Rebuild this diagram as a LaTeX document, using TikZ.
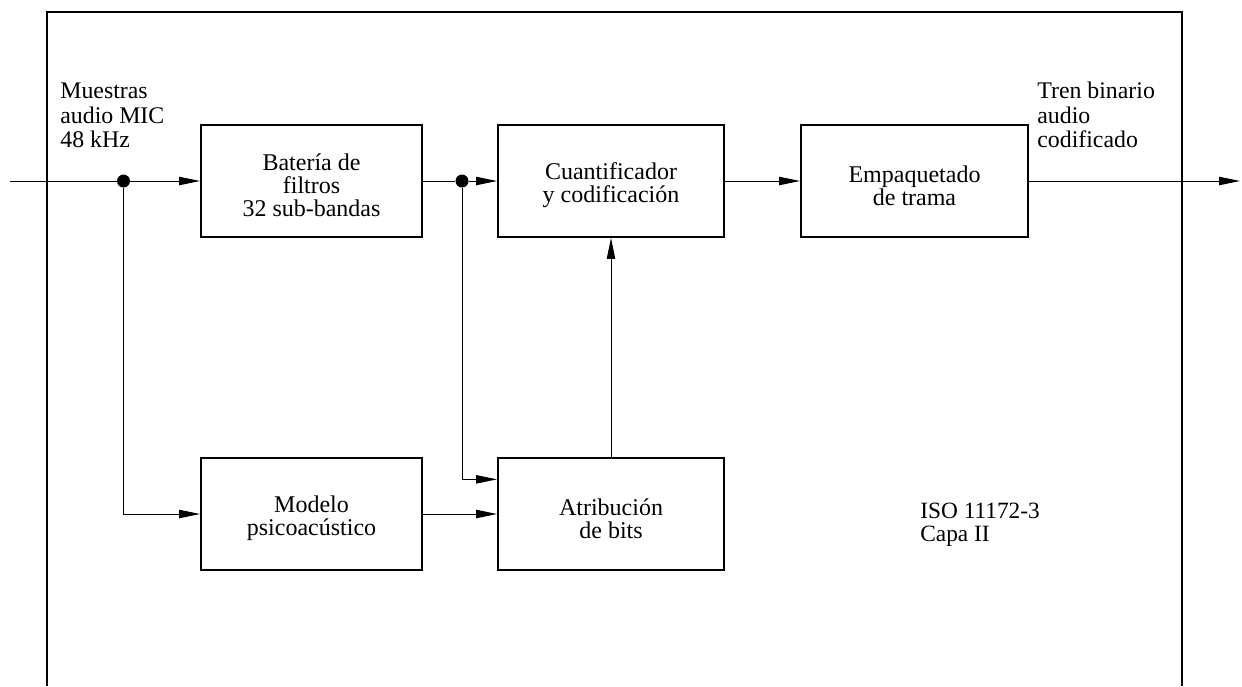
\documentclass[tikz,border=0pt]{standalone}
\usepackage{fontspec}
\setmainfont{Liberation Serif}
\usetikzlibrary{arrows.meta,calc}
\begin{document}
\begin{tikzpicture}[x=0.6pt,y=-0.6pt,
  blk/.style={draw,line width=1.2pt,minimum height=67.2pt,inner sep=0pt},
  boxtxt/.style={align=center,inner sep=0pt,yshift=-2.6pt,
    font=\fontsize{14.4pt}{13.8pt}\selectfont},
  lbl/.style={align=left,inner sep=0pt,anchor=north west,
    font=\fontsize{14.3pt}{14.7pt}\selectfont},
  conn/.style={line width=0.6pt},
  arr/.style={conn,-{Triangle[length=12.5pt,width=5pt]}},
  dot/.style={circle,fill,inner sep=0pt,minimum size=7.8pt}
]
\useasboundingbox (0,0) rectangle (1242,686);
% frame (open at bottom)
\draw[line width=1.2pt] (47,686) -- (47,12) -- (1182,12) -- (1182,686);
% blocks
\node[blk,minimum width=132.6pt,label={[boxtxt]center:Batería de\\filtros\\32 sub-bandas}] (bat) at (311.5,181) {};
\node[blk,minimum width=135.6pt,label={[boxtxt]center:Cuantificador\\y codificación}] (cuan) at (611,181) {};
\node[blk,minimum width=136.2pt,label={[boxtxt]center:Empaquetado\\de trama}] (emp) at (914.5,181) {};
\node[blk,minimum width=132.6pt,label={[boxtxt]center:Modelo\\psicoacústico}] (mod) at (311.5,514) {};
\node[blk,minimum width=135.6pt,label={[boxtxt]center:Atribución\\de bits}] (atr) at (611,514) {};
% labels
\node[lbl] (lin) at (60,83) {Muestras\\audio MIC\\48 kHz};
\node[lbl] (lout) at (1037,82) {Tren binario\\audio\\codificado};
\node[lbl,font=\fontsize{14pt}{13.5pt}\selectfont] (iso) at (920,503) {ISO 11172-3\\Capa II};
% junctions
\node[dot] (d1) at (123.5,181) {};
\node[dot] (d2) at (462,181) {};
\coordinate (in) at (10,181);
\coordinate (out) at (1240,181);
\coordinate (a1) at ($(atr.north west)!0.196!(atr.south west)$);
% connectors
\draw[conn] (in) -- (d1);
\draw[arr] (d1) -- (bat.west);
\draw[arr] (d1) |- (mod.west);
\draw[conn] (bat.east) -- (d2);
\draw[arr] (d2) -- (cuan.west);
\draw[arr] (d2) |- (a1);
\draw[arr] (mod.east) -- (atr.west);
\draw[arr] (atr.north) -- (cuan.south);
\draw[arr] (cuan.east) -- (emp.west);
\draw[arr] (emp.east) -- (out);
\end{tikzpicture}
\end{document}
